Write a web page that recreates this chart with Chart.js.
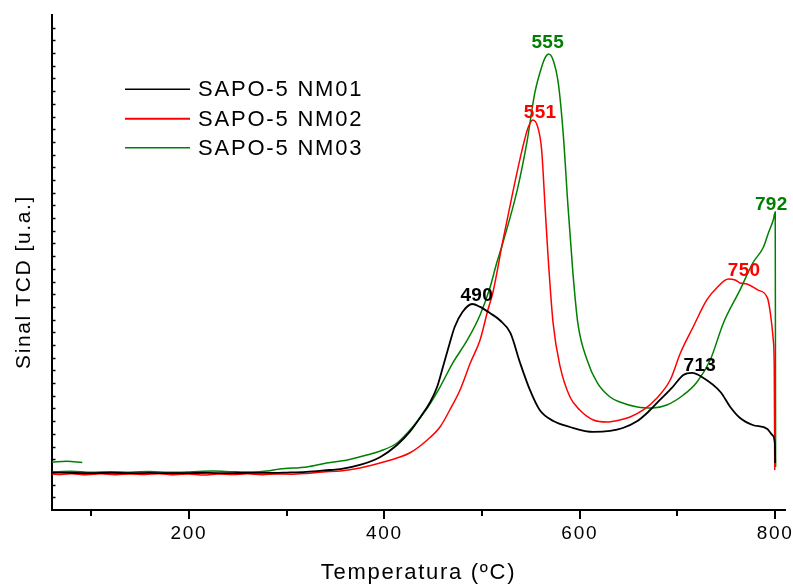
<!DOCTYPE html>
<html>
<head>
<meta charset="utf-8">
<script src="https://cdn.jsdelivr.net/npm/chart.js@4/dist/chart.umd.min.js"></script>
<style>
html,body{margin:0;padding:0;background:#fff;}
#c{display:block;}
</style>
</head>
<body>
<canvas id="c" width="793" height="586"></canvas>
<script>
// ---- data ----
const seriesNames = ['SAPO-5 NM01', 'SAPO-5 NM02', 'SAPO-5 NM03'];
const xTitle = 'Temperatura (ºC)';
const yTitle = 'Sinal TCD [u.a.]';

const nm01T = [60, 80, 100, 120, 140, 160, 180, 200, 220, 240, 260, 280, 300, 320, 344, 355, 375, 396, 413, 426, 437, 447, 454, 460, 467, 472, 480, 490, 498, 508, 518, 529, 539, 549, 559, 573, 590, 614, 631, 644, 659, 670, 682, 695, 706, 715, 725, 744, 754, 764, 777, 792, 797, 799.6, 800];
const nm01V = [2.95, 2.92, 2.9, 2.93, 2.9, 2.92, 2.9, 2.91, 2.92, 2.9, 2.93, 2.92, 2.95, 3.0, 3.15, 3.22, 3.55, 4.18, 5.12, 6.15, 7.33, 8.51, 9.69, 11.27, 13.16, 14.42, 15.6, 16.23, 16.0, 15.52, 14.97, 13.95, 11.58, 9.46, 7.88, 7.01, 6.54, 6.15, 6.23, 6.46, 7.01, 7.72, 8.67, 9.69, 10.64, 10.8, 10.48, 9.3, 8.12, 7.25, 6.7, 6.38, 5.91, 5.28, 3.7];

const nm02T = [60, 70, 80, 95, 110, 125, 140, 155, 170, 185, 200, 215, 230, 245, 260, 275, 290, 305, 320, 337, 355, 375, 403, 413, 426, 444, 457, 467, 477.5, 488, 498, 506, 511, 521.5, 532, 541, 547, 552, 557, 561, 564.5, 567.6, 572.7, 580, 590, 600, 614, 628, 641, 651.5, 665, 679, 692.5, 703, 716, 730, 741, 752, 759, 764, 771, 782, 792, 795, 798, 799, 799.5];
const nm02V = [2.84, 2.8, 2.86, 2.78, 2.85, 2.78, 2.84, 2.8, 2.86, 2.78, 2.84, 2.76, 2.84, 2.8, 2.85, 2.78, 2.84, 2.82, 2.88, 3.0, 3.07, 3.31, 3.86, 4.1, 4.49, 5.52, 6.54, 7.88, 9.46, 11.58, 13.4, 15.76, 17.1, 21.28, 25.22, 28.37, 30.1, 30.73, 30.18, 28.37, 23.88, 19.94, 14.74, 11.27, 8.9, 7.88, 7.09, 6.93, 7.09, 7.33, 7.88, 8.83, 10.24, 12.37, 14.42, 16.55, 17.57, 18.2, 18.12, 17.89, 17.81, 17.34, 16.71, 15.52, 13.4, 11.27, 3.15];

const nm03LeadT = [60, 75, 91];
const nm03LeadV = [3.78, 3.85, 3.75];
const nm03T = [60, 80, 100, 120, 140, 160, 180, 200, 225, 245, 265, 280, 293, 321, 341, 362, 382, 396, 413, 429, 444, 457, 470, 485, 498, 508, 515, 521.5, 536, 546, 554, 561, 565, 568, 572.7, 578, 583, 588, 593, 598, 607.5, 618, 631, 641, 659, 675, 689, 706, 720, 733.5, 747, 764, 777, 788, 793, 798, 800, 800.4];
const nm03V = [3.0, 3.05, 2.97, 3.02, 2.98, 3.03, 2.97, 3.0, 3.07, 3.02, 2.99, 3.07, 3.23, 3.39, 3.7, 3.94, 4.33, 4.65, 5.28, 6.54, 8.04, 9.69, 11.58, 13.4, 15.37, 17.49, 19.46, 21.1, 25.2, 29.0, 32.86, 34.91, 35.7, 35.93, 35.46, 33.65, 29.71, 23.88, 18.68, 14.74, 11.82, 10.01, 8.9, 8.51, 8.12, 8.04, 8.27, 9.06, 10.09, 11.82, 14.74, 17.34, 19.46, 20.72, 21.83, 22.85, 23.48, 3.39];

// peak annotations
const peakText = ['490', '551', '555', '713', '750', '792'];
const peakSeries = [0, 1, 2, 0, 1, 2];
const peakT = [494.6, 559.4, 567.3, 722.9, 768.2, 795.9];
const peakV = [16.98, 31.39, 36.9, 11.47, 18.95, 24.15];

const xTickValues = [100, 200, 300, 400, 500, 600, 700, 800];

// ---- styles ----
const colors = ['#000000', '#ff0000', '#008000'];
const widths = [1.8, 1.5, 1.5];
const FONT = '"Liberation Sans", Arial, Helvetica, sans-serif';

function pts(T, V) { return T.map((t, i) => ({ x: t, y: V[i] })); }

const greenData = pts(nm03LeadT, nm03LeadV).concat([{ x: 92, y: null }], pts(nm03T, nm03V));

const datasets = [
  { label: seriesNames[0], data: pts(nm01T, nm01V) },
  { label: seriesNames[1], data: pts(nm02T, nm02V) },
  { label: seriesNames[2], data: greenData }
].map((d, i) => Object.assign(d, {
  borderColor: colors[i], backgroundColor: colors[i], borderWidth: widths[i],
  pointRadius: 0, cubicInterpolationMode: 'monotone', spanGaps: false, fill: false
}));

const decor = {
  id: 'decor',
  beforeDraw(chart) {
    chart.ctx.letterSpacing = '1.7px';
  },
  afterDraw(chart) {
    const ctx = chart.ctx;
    const xs = chart.scales.x, ys = chart.scales.y;
    const ca = chart.chartArea;
    ctx.save();
    ctx.strokeStyle = '#000';
    // x ticks (outside)
    ctx.lineWidth = 2;
    xTickValues.forEach(v => {
      const px = Math.round(xs.getPixelForValue(v));
      const len = (v % 200 === 0) ? 9 : 6;
      ctx.beginPath(); ctx.moveTo(px, ca.bottom); ctx.lineTo(px, ca.bottom + len); ctx.stroke();
    });
    // y ticks (inside)
    ctx.lineWidth = 1.5;
    for (let v = 1; v < ys.max; v++) {
      const py = Math.round(ys.getPixelForValue(v)) + 0.5;
      ctx.beginPath(); ctx.moveTo(ca.left, py); ctx.lineTo(ca.left + 3.5, py); ctx.stroke();
    }
    // y title
    ctx.save();
    ctx.translate(24, 282);
    ctx.rotate(-Math.PI / 2);
    ctx.font = '21px ' + FONT;
    ctx.letterSpacing = '1.6px';
    ctx.fillStyle = '#000';
    ctx.textAlign = 'center';
    ctx.textBaseline = 'middle';
    ctx.fillText(yTitle, 0, 0);
    ctx.restore();
    // legend
    const legY = [89.3, 118.7, 147.7];
    ctx.font = '22px ' + FONT;
    ctx.letterSpacing = '1.8px';
    ctx.textBaseline = 'middle';
    ctx.textAlign = 'left';
    seriesNames.forEach((n, i) => {
      ctx.strokeStyle = colors[i];
      ctx.lineWidth = i === 1 ? 2 : 1.6;
      ctx.beginPath(); ctx.moveTo(125, legY[i]); ctx.lineTo(190, legY[i]); ctx.stroke();
      ctx.fillStyle = '#000';
      ctx.fillText(n, 198, legY[i] + 1);
    });
    // peak labels
    ctx.font = 'bold 19px ' + FONT;
    ctx.letterSpacing = '0.3px';
    ctx.textAlign = 'center';
    peakText.forEach((t, i) => {
      ctx.fillStyle = colors[peakSeries[i]];
      ctx.fillText(t, xs.getPixelForValue(peakT[i]), ys.getPixelForValue(peakV[i]) + 1);
    });
    ctx.restore();
  }
};

new Chart(document.getElementById('c'), {
  type: 'line',
  data: { datasets },
  plugins: [decor],
  options: {
    responsive: false,
    animation: false,
    devicePixelRatio: 1,
    layout: { padding: { top: 15, right: 8, left: 0, bottom: 0 } },
    plugins: { legend: { display: false }, tooltip: { enabled: false } },
    scales: {
      x: {
        type: 'linear', min: 60, max: 810,
        afterFit(s) { s.height = 76; s.paddingLeft = 0; s.paddingRight = 0; },
        grid: { display: false, drawTicks: false },
        border: { display: true, color: '#000', width: 2 },
        ticks: {
          stepSize: 100, includeBounds: false, autoSkip: false, maxRotation: 0,
          padding: 12, color: '#000', font: { family: FONT, size: 19 },
          callback: v => (v % 200 === 0 ? String(v) : '')
        },
        title: { display: true, text: xTitle, color: '#000',
                 font: { family: FONT, size: 22, lineHeight: 1.2 }, padding: { top: 0, bottom: 0 } }
      },
      y: {
        min: 0, max: 39,
        afterFit(s) { s.width = 52; s.paddingTop = 0; s.paddingBottom = 0; },
        grid: { display: false, drawTicks: false },
        border: { display: true, color: '#000', width: 2 },
        ticks: { display: false, stepSize: 1 },
        title: { display: false }
      }
    }
  }
});
</script>
</body>
</html>
